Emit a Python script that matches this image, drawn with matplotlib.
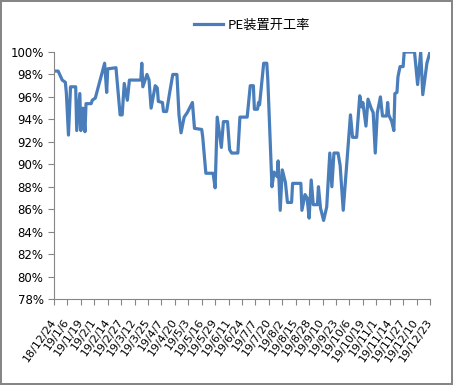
import matplotlib
matplotlib.use("Agg")
import matplotlib.pyplot as plt
import matplotlib.transforms as mtransforms
import numpy as np
import pandas as pd

plt.rcParams['font.family'] = ['DejaVu Sans', 'Noto Sans CJK SC']

# days since 2018-12-24, and utilisation rate (%)
day_offset = [0, 4, 8, 11, 12, 14, 16, 21, 22, 25, 26, 28, 30, 31, 36, 37, 40, 49, 51, 52,
              60, 64, 66, 68, 71, 73, 84, 85, 86, 90, 92, 94, 98, 100, 101, 105, 106, 109, 112, 115,
              119, 121, 123, 126, 129, 134, 136, 143, 144, 147, 154, 156, 158, 162, 164, 168, 170, 172, 178, 180,
              187, 190, 193, 194, 197, 198, 199, 203, 206, 207, 211, 213, 216, 217, 219, 221, 224, 226, 230, 231,
              239, 240, 243, 245, 247, 249, 251, 255, 256, 258, 261, 264, 267, 269, 271, 275, 277, 280, 287, 289,
              293, 296, 298, 299, 302, 304, 307, 309, 311, 313, 316, 318, 322, 323, 324, 327, 329, 330, 332, 333,
              335, 338, 339, 349, 352, 355, 357, 361, 364]
rate = [98.3, 98.3, 97.5, 97.3, 96.3, 92.6, 96.9, 96.9, 93.0, 96.3, 93.0, 95.0, 92.9, 95.4, 95.4, 95.7, 95.9, 99.0, 96.4, 98.5,
        98.6, 94.4, 94.4, 97.2, 95.7, 97.5, 97.5, 99.0, 96.9, 98.0, 97.5, 95.0, 97.0, 96.8, 95.6, 95.5, 94.7, 94.7, 96.4, 98.0,
        98.0, 94.4, 92.8, 94.2, 94.6, 95.5, 93.2, 93.1, 92.4, 89.2, 89.2, 87.9, 94.2, 91.5, 93.8, 93.8, 91.3, 91.0, 91.0, 94.2,
        94.2, 97.0, 97.0, 94.9, 94.9, 95.5, 95.3, 99.0, 99.0, 97.5, 88.0, 89.3, 88.9, 90.3, 85.9, 89.5, 88.4, 86.6, 86.6, 88.3,
        88.3, 85.9, 87.3, 87.0, 85.2, 88.6, 86.4, 86.4, 88.0, 86.1, 85.0, 86.2, 91.0, 88.0, 91.0, 91.0, 89.9, 85.9, 94.4, 92.4,
        92.4, 96.1, 95.1, 95.5, 93.4, 95.8, 95.0, 94.6, 91.0, 94.6, 96.0, 94.3, 94.3, 95.5, 94.4, 93.8, 93.0, 96.3, 96.4, 97.8,
        98.7, 98.7, 100.0, 100.0, 97.1, 100.0, 96.2, 99.0, 100.0]

start = pd.Timestamp("2018-12-24")
dates = start + pd.to_timedelta(day_offset, unit="D")
tick_dates = pd.date_range(start, "2019-12-23", freq="13D")
tick_labels = [f"{d.year % 100}/{d.month}/{d.day}" for d in tick_dates]
y_ticks = np.arange(78, 101, 2)

fig = plt.figure(figsize=(4.53, 3.85), dpi=100)
fig.patch.set_edgecolor("#868686")
fig.patch.set_linewidth(1.5)
ax = fig.add_axes([54 / 453, 1 - 299 / 385, 376 / 453, 247 / 385])

line, = ax.plot(dates, np.array(rate) / 100, color="#4A7EBB", lw=2.3, label="PE装置开工率")

ax.set_xlim(tick_dates[0], tick_dates[-1])
ax.set_ylim(0.78, 1.0)
ax.set_yticks(y_ticks / 100)
ax.set_yticklabels([f"{v}%" for v in y_ticks], fontsize=8.5)
ax.set_xticks(tick_dates)
ax.set_xticklabels(tick_labels, fontsize=8, rotation=55, ha="right", va="center",
                   rotation_mode="anchor")
shift = mtransforms.ScaledTranslation(7 / 100, 0, fig.dpi_scale_trans)
for lab in ax.get_xticklabels():
    lab.set_transform(lab.get_transform() + shift)

for s in ["top", "right"]:
    ax.spines[s].set_visible(False)
for s in ["left", "bottom"]:
    ax.spines[s].set_color("#868686")
ax.tick_params(axis="both", colors="#868686", labelcolor="black", length=4, width=0.8)
ax.tick_params(axis="x", pad=11)

fig.legend(handles=[line], loc="center", bbox_to_anchor=(252 / 453, 1 - 25 / 385),
           frameon=False, handlelength=2.2, handletextpad=0.3,
           prop={"family": ["Noto Sans CJK SC"], "size": 9.5})

fig.savefig("out.png", dpi=100, edgecolor=fig.get_edgecolor())
